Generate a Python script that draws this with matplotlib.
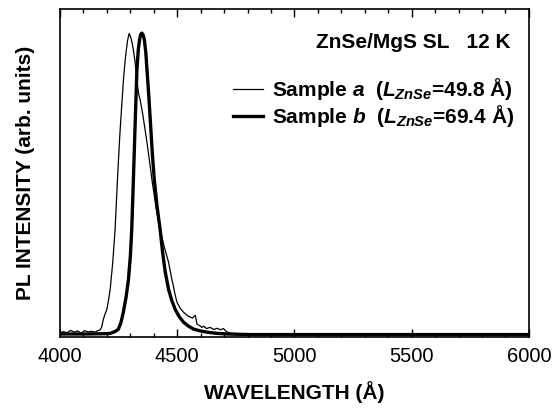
import matplotlib
matplotlib.use("Agg")
import matplotlib.pyplot as plt
from matplotlib.ticker import MultipleLocator

plt.rcParams['font.family'] = ['Liberation Sans', 'DejaVu Sans']
plt.rcParams['mathtext.fontset'] = 'custom'
plt.rcParams['mathtext.rm'] = 'Liberation Sans:bold'
plt.rcParams['mathtext.it'] = 'Liberation Sans:bold:italic'
plt.rcParams['mathtext.bf'] = 'Liberation Sans:bold'

# Sample a (thin line), wavelength in angstrom, normalized PL intensity
wl_a = [4000, 4015, 4030, 4045, 4060, 4075, 4090, 4105, 4120, 4135, 4150, 4160,
        4170, 4178, 4185, 4192, 4200, 4207, 4214, 4225, 4235, 4245, 4255, 4264,
        4272, 4280, 4288, 4295, 4302, 4308, 4313, 4320, 4328, 4335, 4342, 4352,
        4363, 4375, 4385, 4392, 4410, 4427, 4445, 4463, 4477, 4484, 4490, 4499,
        4512, 4527, 4545, 4556, 4565, 4577, 4584, 4595, 4605, 4612, 4625, 4640,
        4655, 4670, 4685, 4697, 4710, 4726, 4760, 4850, 5000, 6000]
int_a = [0.006, 0.010, 0.006, 0.014, 0.008, 0.012, 0.005, 0.013, 0.009, 0.011, 0.008, 0.013,
         0.015, 0.025, 0.051, 0.068, 0.084, 0.115, 0.150, 0.240, 0.349, 0.514, 0.660, 0.769,
         0.860, 0.925, 0.975, 0.999, 0.985, 0.965, 0.944, 0.905, 0.845, 0.800, 0.778, 0.735,
         0.679, 0.615, 0.557, 0.514, 0.420, 0.349, 0.290, 0.240, 0.183, 0.160, 0.135, 0.107,
         0.088, 0.074, 0.062, 0.058, 0.055, 0.064, 0.035, 0.030, 0.024, 0.028, 0.020, 0.024,
         0.017, 0.021, 0.016, 0.020, 0.010, 0.005, 0.003, 0.002, 0.002, 0.002]

# Sample b (thick line)
wl_b = [4000, 4100, 4200, 4214, 4235, 4249, 4260, 4270, 4282, 4292, 4300, 4306,
        4313, 4321, 4328, 4334, 4339, 4344, 4349, 4354, 4360, 4366, 4371, 4378,
        4385, 4393, 4402, 4414, 4427, 4438, 4449, 4463, 4476, 4491, 4508, 4527,
        4548, 4570, 4600, 4627, 4670, 4712, 4812, 6000]
int_b = [0.002, 0.002, 0.003, 0.004, 0.010, 0.018, 0.040, 0.074, 0.125, 0.183, 0.260, 0.349,
         0.514, 0.712, 0.878, 0.945, 0.977, 0.995, 1.000, 0.995, 0.977, 0.935, 0.878, 0.800,
         0.712, 0.610, 0.514, 0.425, 0.349, 0.270, 0.207, 0.150, 0.115, 0.084, 0.060, 0.041,
         0.028, 0.018, 0.012, 0.008, 0.004, 0.002, 0.000, 0.000]

label_a = r'Sample $a$  ($L_{ZnSe}$=49.8 Å)'
label_b = r'Sample $b$  ($L_{ZnSe}$=69.4 Å)'

fig = plt.figure(figsize=(5.53, 4.08), dpi=100)
ax = fig.add_axes([0.1085, 0.174, 0.848, 0.804])

ax.plot(wl_a, int_a, color='black', linewidth=0.9, label=label_a)
ax.plot(wl_b, int_b, color='black', linewidth=2.4, label=label_b)

ax.set_xlim(4000, 6000)
ax.set_ylim(-0.008, 1.08)

ax.xaxis.set_major_locator(MultipleLocator(500))
ax.xaxis.set_minor_locator(MultipleLocator(100))
ax.tick_params(axis='x', which='both', direction='in', top=True, bottom=True,
               labelsize=14.5, pad=7, width=1)
ax.tick_params(axis='x', which='major', length=6)
ax.tick_params(axis='x', which='minor', length=3)
ax.set_yticks([])
for s in ax.spines.values():
    s.set_linewidth(1.2)

ax.set_xlabel('WAVELENGTH (Å)', fontsize=15, fontweight='bold', labelpad=11)
ax.set_ylabel('PL INTENSITY (arb. units)', fontsize=15, fontweight='bold', labelpad=18)

ax.text(0.9616, 0.899, 'ZnSe/MgS SL   12 K', transform=ax.transAxes,
        fontsize=15, fontweight='bold', ha='right', va='center')

leg = ax.legend(loc='upper right', bbox_to_anchor=(0.968, 0.795), frameon=False,
                prop={'size': 15, 'weight': 'bold'}, handlelength=1.45,
                handletextpad=0.43, labelspacing=0.05, borderpad=0, borderaxespad=0)

fig.savefig('out.png', dpi=100)
